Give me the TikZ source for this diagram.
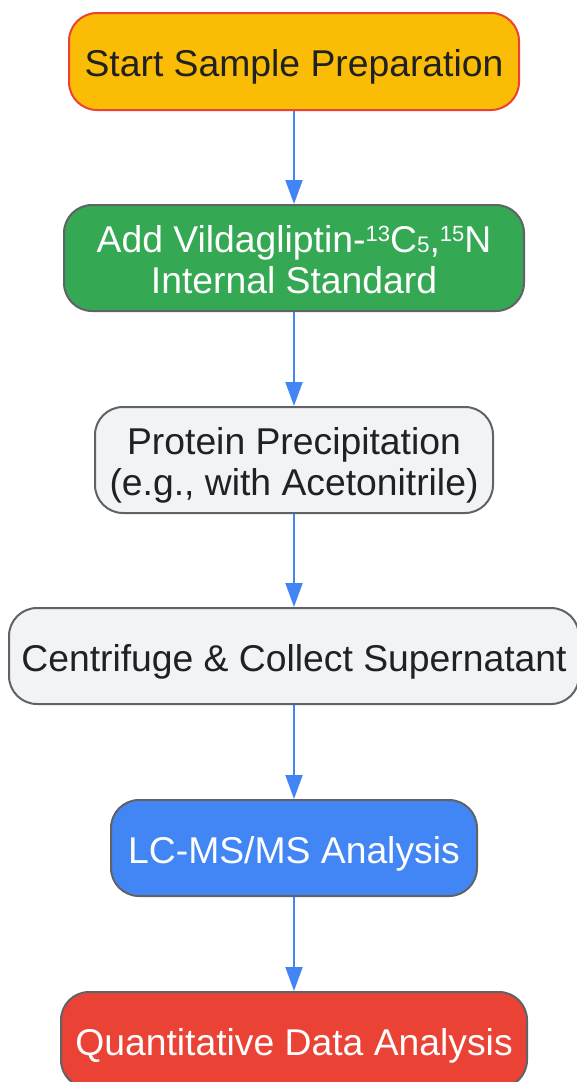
\documentclass[tikz,border=0pt]{standalone}
\usepackage{fontspec}
\setmainfont{Liberation Sans}
\usetikzlibrary{arrows.meta}
\definecolor{gyellow}{HTML}{FBBC05}
\definecolor{ggreen}{HTML}{34A853}
\definecolor{ggrey}{HTML}{F1F3F4}
\definecolor{gblue}{HTML}{4285F4}
\definecolor{gred}{HTML}{EA4335}
\definecolor{gborder}{HTML}{5F6368}
\definecolor{gtext}{HTML}{202124}
\newcommand{\supnum}[1]{\raisebox{11pt}{\fontsize{22}{22}\selectfont #1}}
\newcommand{\subnum}[1]{{\fontsize{22.5}{22}\selectfont #1}}
\newcommand{\lowered}[1]{\raisebox{0pt}[\dimexpr\height+14pt\relax][\depth]{\begin{tabular}{@{}c@{}}#1\end{tabular}}}
\begin{document}
\begin{tikzpicture}[x=1pt,y=-1pt,
  stepbox/.style={draw=gborder, line width=2pt, rounded corners=28pt,
    inner sep=0pt, font=\fontsize{37.3}{41}\selectfont},
  flow/.style={draw=gblue, line width=2pt, -{Triangle[length=24pt,width=17pt]}}]
\useasboundingbox (0,0) rectangle (577,1082);
\node[stepbox, draw=gred, fill=gyellow, text=gtext, minimum width=450pt, minimum height=97pt] (n1) at (294,61.5) {\lowered{Start Sample Preparation}};
\node[stepbox, fill=ggreen, text=white, minimum width=460pt, minimum height=106pt] (n2) at (294,258) {\lowered{Add Vildagliptin-\supnum{13}C\subnum{5},\supnum{15}N\\Internal Standard}};
\node[stepbox, fill=ggrey, text=gtext, minimum width=398pt, minimum height=106pt] (n3) at (294,460) {\lowered{Protein Precipitation\\(e.g., with Acetonitrile)}};
\node[stepbox, fill=ggrey, text=gtext, minimum width=570pt, minimum height=96pt] (n4) at (294,656) {\lowered{Centrifuge \& Collect Supernatant}};
\node[stepbox, fill=gblue, text=white, minimum width=366pt, minimum height=96pt] (n5) at (294,848) {\lowered{LC-MS/MS Analysis}};
\node[stepbox, fill=gred, text=white, minimum width=466pt, minimum height=96pt] (n6) at (294,1040) {\lowered{Quantitative Data Analysis}};
\draw[flow] (n1) -- (n2);
\draw[flow] (n2) -- (n3);
\draw[flow] (n3) -- (n4);
\draw[flow] (n4) -- (n5);
\draw[flow] (n5) -- (n6);
\end{tikzpicture}
\end{document}
